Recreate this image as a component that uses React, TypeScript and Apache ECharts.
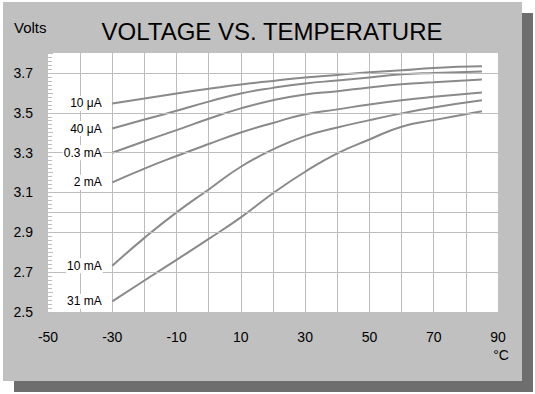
import React, { useEffect, useRef } from "react";
import * as echarts from "echarts";

const temps = [-30, -20, -10, 0, 10, 20, 30, 40, 50, 60, 70, 85];
const seriesNames = ["10 μA", "40 μA", "0.3 mA", "2 mA", "10 mA", "31 mA"];
const v10uA = [3.547, 3.572, 3.597, 3.62, 3.642, 3.66, 3.677, 3.69, 3.703, 3.713, 3.725, 3.733];
const v40uA = [3.421, 3.466, 3.51, 3.556, 3.597, 3.625, 3.647, 3.662, 3.677, 3.693, 3.7, 3.707];
const v03mA = [3.299, 3.357, 3.413, 3.47, 3.522, 3.563, 3.592, 3.608, 3.627, 3.643, 3.653, 3.667];
const v2mA = [3.151, 3.22, 3.283, 3.343, 3.401, 3.449, 3.493, 3.517, 3.542, 3.563, 3.58, 3.602];
const v10mA = [2.732, 2.872, 3.0, 3.115, 3.229, 3.316, 3.383, 3.426, 3.463, 3.497, 3.527, 3.563];
const v31mA = [2.553, 2.658, 2.762, 2.867, 2.975, 3.096, 3.204, 3.296, 3.366, 3.43, 3.463, 3.508];
const allValues = [v10uA, v40uA, v03mA, v2mA, v10mA, v31mA];
const yGridValues = [2.7, 2.9, 3.0, 3.1, 3.3, 3.5, 3.7];
const xLabelValues = [-50, -30, -10, 10, 30, 50, 70, 90];
const yLabelValues = [2.5, 2.7, 2.9, 3.1, 3.3, 3.5, 3.7];

const FONT = '"Liberation Sans", Arial, sans-serif';
const GRID_COLOR = "#bdbdbd";
const LINE_COLOR = "#8a8a8a";

export default function App() {
  const ref = useRef<HTMLDivElement>(null);
  useEffect(() => {
    if (!ref.current) return;
    const chart = echarts.init(ref.current, undefined, { renderer: "svg" });
    const curveSeries = allValues.map((vals, si) => ({
      type: "line",
      name: seriesNames[si],
      data: temps.map((t, i) => [t, vals[i]]),
      smooth: 0.5,
      symbol: "none",
      showSymbol: false,
      z: 3,
      lineStyle: { color: LINE_COLOR, width: 2 },
      markPoint: {
        silent: true,
        symbol: "rect",
        symbolSize: 1,
        itemStyle: { color: "rgba(0,0,0,0)" },
        data: [{ coord: [temps[0], vals[0]], value: seriesNames[si] }],
        label: {
          show: true,
          position: "left",
          distance: 9,
          formatter: seriesNames[si],
          color: "#000",
          fontSize: 12,
          fontFamily: FONT,
          backgroundColor: "#fff",
          padding: [1, 1],
          lineHeight: 13,
        },
      },
    }));
    chart.setOption({
      animation: false,
      backgroundColor: "#fff",
      textStyle: { fontFamily: FONT },
      graphic: [
        { type: "rect", z: -100, shape: { x: 14, y: 13, width: 519, height: 379 }, style: { fill: "#6e6e6e" } },
        { type: "rect", z: -99, shape: { x: 3, y: 2, width: 519, height: 379 }, style: { fill: "#c0c0c0" } },
        {
          type: "text",
          x: 272,
          y: 31,
          style: { text: "VOLTAGE VS. TEMPERATURE", font: `24px ${FONT}`, fill: "#000", align: "center", verticalAlign: "middle" },
        },
        {
          type: "text",
          x: 14,
          y: 27,
          style: { text: "Volts", font: `15px ${FONT}`, fill: "#000", align: "left", verticalAlign: "middle" },
        },
        {
          type: "text",
          x: 501,
          y: 355,
          style: { text: "°C", font: `14px ${FONT}`, fill: "#000", align: "center", verticalAlign: "middle" },
        },
      ],
      grid: {
        left: 48,
        top: 53,
        right: 37,
        bottom: 82,
        show: true,
        backgroundColor: "#fff",
        borderWidth: 0,
      },
      xAxis: {
        type: "value",
        min: -50,
        max: 90,
        interval: 10,
        axisLine: { show: false, onZero: false },
        axisTick: { show: false },
        splitLine: { show: true, showMinLine: false, showMaxLine: false, lineStyle: { color: GRID_COLOR, width: 1 } },
        axisLabel: {
          margin: 18,
          fontSize: 14,
          color: "#000",
          fontFamily: FONT,
          formatter: (v: number) => (xLabelValues.some((x) => Math.abs(x - v) < 1e-6) ? String(v) : ""),
        },
      },
      yAxis: {
        type: "value",
        min: 2.5,
        max: 3.8,
        interval: 0.1,
        axisLine: { show: false, onZero: false },
        axisTick: { show: true, inside: true, length: 5, lineStyle: { color: GRID_COLOR } },
        minorTick: { show: true, splitNumber: 5, length: 4, lineStyle: { color: GRID_COLOR } },
        splitLine: { show: false },
        axisLabel: {
          margin: 15,
          fontSize: 14,
          color: "#000",
          fontFamily: FONT,
          formatter: (v: number) => {
            const hit = yLabelValues.find((y) => Math.abs(y - v) < 1e-6);
            return hit !== undefined ? hit.toFixed(1) : "";
          },
        },
      },
      series: [
        {
          type: "line",
          data: [],
          z: 1,
          markLine: {
            silent: true,
            symbol: ["none", "none"],
            label: { show: false },
            lineStyle: { color: GRID_COLOR, type: "solid", width: 1 },
            data: yGridValues.map((v) => ({ yAxis: v })),
          },
        },
        ...curveSeries,
      ],
    });
    return () => chart.dispose();
  }, []);
  return <div ref={ref} style={{ position: "absolute", left: 0, top: 0, width: 535, height: 394 }} />;
}
